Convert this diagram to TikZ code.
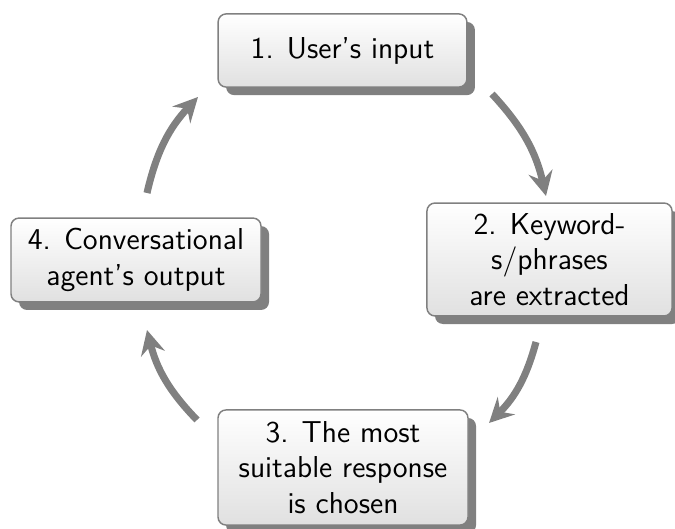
\documentclass[tikz,border=0pt]{standalone}
\usetikzlibrary{arrows.meta,shadows}
\begin{document}
\begin{tikzpicture}[x=0.41pt,y=-0.41pt,
  stepbox/.style={draw=gray, line width=0.6pt, rounded corners=3.3pt,
    top color=white, bottom color=black!12,
    drop shadow={shadow xshift=3.3pt, shadow yshift=-3.3pt, fill=gray, opacity=1},
    align=center, font=\sffamily\fontsize{12.4}{14.5}\selectfont, inner sep=0pt},
  cyclearrow/.style={draw=gray, line width=2.9pt,
    -{Stealth[length=10pt,width=10pt,inset=3.5pt]}}]
\useasboundingbox (0,0) rectangle (675,529);
\node[stepbox, minimum width=102pt, minimum height=30pt] (n1) at (342.5,50.5) {1. User's input};
\node[stepbox, minimum width=100.5pt, minimum height=46.3pt] (n2) at (549.5,259.5) {2. Keyword-\\s/phrases\\are extracted};
\node[stepbox, minimum width=102.5pt, minimum height=47.2pt] (n3) at (343,467.5) {3. The most\\suitable response\\is chosen};
\node[stepbox, minimum width=102.5pt, minimum height=34.4pt] (n4) at (136,260) {4. Conversational\\agent's output};
\coordinate (a4s) at (147,193);
\coordinate (a1e) at (198,97);
\coordinate (a1s) at (492,94);
\coordinate (a2e) at (546,196);
\coordinate (a2s) at (536,342);
\coordinate (a3e) at (489,423);
\coordinate (a3s) at (197,420);
\coordinate (a4e) at (147,330);
\draw[cyclearrow] (a4s) to[bend left=15] (a1e);
\draw[cyclearrow] (a1s) to[bend left=15] (a2e);
\draw[cyclearrow] (a2s) to[bend left=15] (a3e);
\draw[cyclearrow] (a3s) to[bend left=15] (a4e);
\end{tikzpicture}
\end{document}
